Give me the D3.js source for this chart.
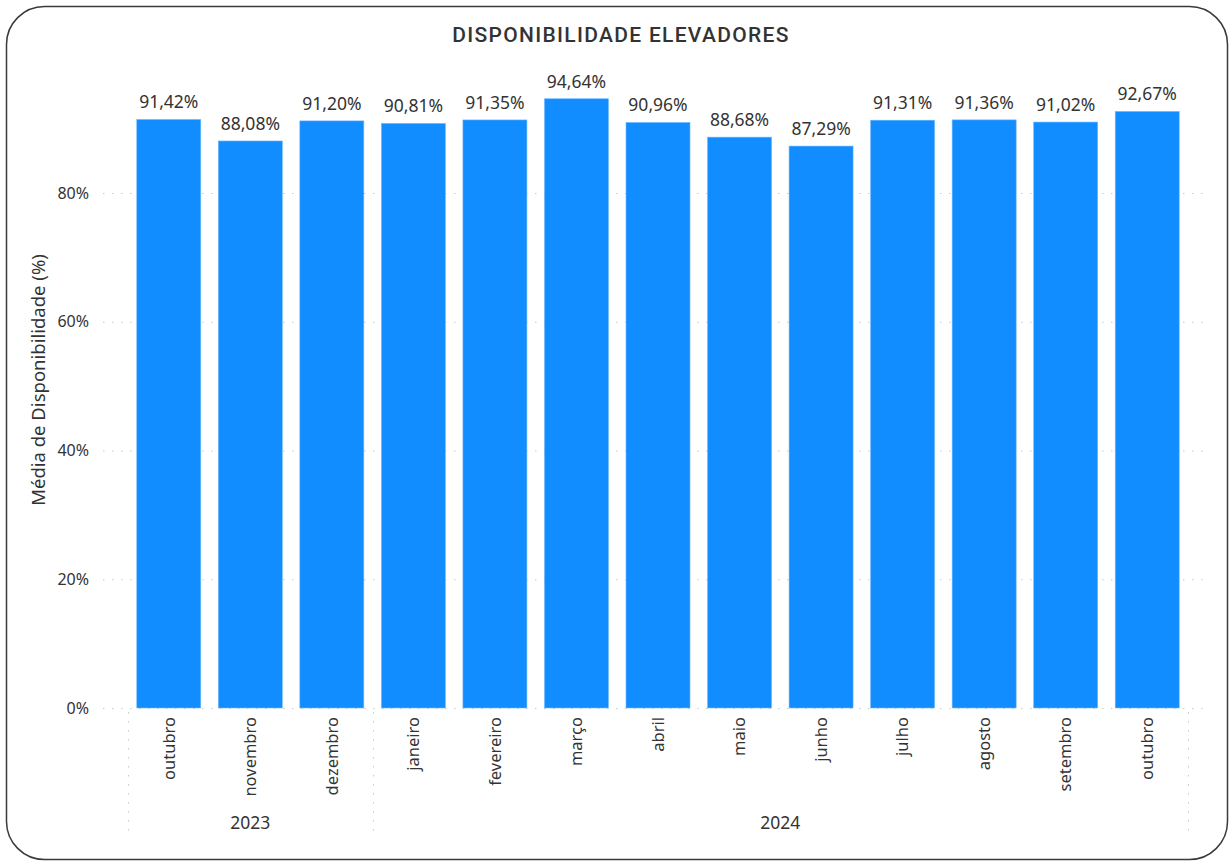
<!DOCTYPE html>
<html>
<head>
<meta charset="utf-8">
<script src="https://cdn.jsdelivr.net/npm/d3@7"></script>
<style>
  body { margin: 0; background: #fff; }
  text { font-family: "Noto Sans", "Open Sans", sans-serif; fill: #333; }
</style>
</head>
<body>
<script>
// data
var months = ["outubro", "novembro", "dezembro", "janeiro", "fevereiro", "março", "abril",
              "maio", "junho", "julho", "agosto", "setembro", "outubro"];
var years = ["2023", "2023", "2023", "2024", "2024", "2024", "2024",
             "2024", "2024", "2024", "2024", "2024", "2024"];
var values = [91.42, 88.08, 91.20, 90.81, 91.35, 94.64, 90.96, 88.68, 87.29, 91.31, 91.36, 91.02, 92.67];
var yTicks = [0, 20, 40, 60, 80];

var W = 1230, H = 862;
var svg = d3.select("body").append("svg")
  .attr("width", W)
  .attr("height", H);

// card
svg.append("rect")
  .attr("x", 6.5).attr("y", 6.5)
  .attr("width", 1221).attr("height", 853)
  .attr("rx", 38).attr("ry", 38)
  .attr("fill", "#fff")
  .attr("stroke", "#3a3a3a")
  .attr("stroke-width", 1.5);

svg.append("text")
  .attr("x", 621).attr("y", 42)
  .attr("text-anchor", "middle")
  .style("font-family", "Roboto, sans-serif")
  .style("font-size", "21px")
  .style("font-weight", 500)
  .style("letter-spacing", "1.3px")
  .text("DISPONIBILIDADE ELEVADORES");

var idx = d3.range(values.length);
var x = d3.scaleBand().domain(idx).range([128, 1188]).paddingInner(0.215).paddingOuter(0.1075);
var y = d3.scaleLinear().domain([0, 100]).range([708, 64.25]);

// gridlines
svg.selectAll(".grid").data(yTicks).enter().append("line")
  .attr("x1", 103).attr("x2", 1207)
  .attr("y1", function(d){ return y(d) + 0.5; })
  .attr("y2", function(d){ return y(d) + 0.5; })
  .attr("stroke", "#c8c8c8")
  .attr("stroke-width", 1)
  .attr("stroke-dasharray", "1.5,7.5");

// y axis labels
svg.selectAll(".ytick").data(yTicks).enter().append("text")
  .attr("x", 89)
  .attr("y", function(d){ return y(d); })
  .attr("dy", "0.35em")
  .attr("text-anchor", "end")
  .style("font-size", "16px")
  .text(function(d){ return d + "%"; });

svg.append("text")
  .attr("transform", "translate(45,380) rotate(-90)")
  .attr("text-anchor", "middle")
  .style("font-size", "18.5px")
  .text("Média de Disponibilidade (%)");

// bars
svg.selectAll(".bar").data(idx).enter().append("rect")
  .attr("x", function(i){ return x(i); })
  .attr("y", function(i){ return y(values[i]); })
  .attr("width", x.bandwidth())
  .attr("height", function(i){ return y(0) - y(values[i]); })
  .attr("fill", "#118DFF")
  .attr("stroke", "#6fb8ff")
  .attr("stroke-width", 0.6);

svg.selectAll(".lbl").data(idx).enter().append("text")
  .attr("x", function(i){ return x(i) + x.bandwidth()/2; })
  .attr("y", function(i){ return y(values[i]) - 11; })
  .attr("text-anchor", "middle")
  .style("font-size", "17.5px")
  .text(function(i){ return values[i].toFixed(2).replace(".", ",") + "%"; });

// month labels
svg.selectAll(".mon").data(idx).enter().append("text")
  .attr("transform", function(i){
    return "translate(" + (x(i) + x.bandwidth()/2) + ",717) rotate(-90)";
  })
  .attr("text-anchor", "end")
  .attr("dy", "0.35em")
  .style("font-size", "16.5px")
  .text(function(i){ return months[i]; });

// year groups
var groups = d3.groups(idx, function(i){ return years[i]; });
var step = x.step();
var bounds = [];
groups.forEach(function(g){
  var first = g[1][0], last = g[1][g[1].length - 1];
  var x0 = x(first) - (step - x.bandwidth())/2;
  var x1 = x(last) + x.bandwidth() + (step - x.bandwidth())/2;
  bounds.push(x0, x1);
  svg.append("text")
    .attr("x", (x0 + x1)/2)
    .attr("y", 829)
    .attr("text-anchor", "middle")
    .style("font-size", "17.5px")
    .text(g[0]);
});
var sepX = Array.from(new Set(bounds.map(function(b){ return Math.round(b); })));
svg.selectAll(".sep").data(sepX).enter().append("line")
  .attr("x1", function(d){ return d + 0.5; })
  .attr("x2", function(d){ return d + 0.5; })
  .attr("y1", 712).attr("y2", 837)
  .attr("stroke", "#c8c8c8")
  .attr("stroke-dasharray", "1.5,7.5");
</script>
</body>
</html>
